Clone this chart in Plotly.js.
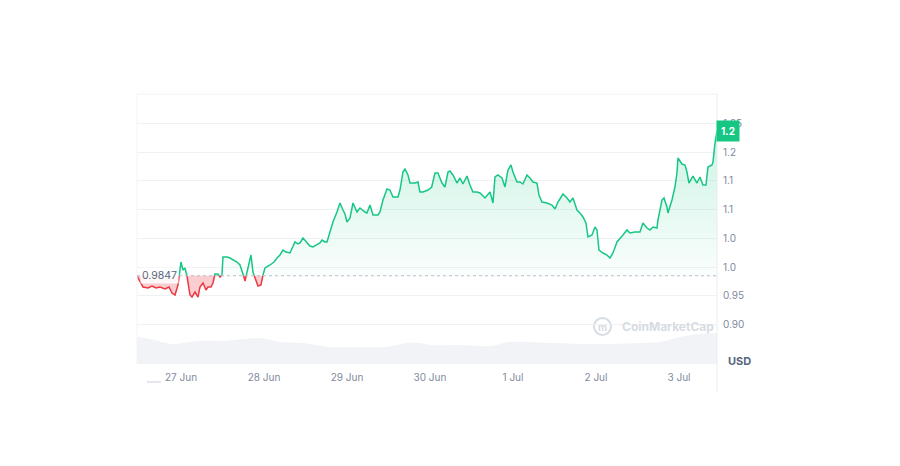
<!DOCTYPE html>
<html>
<head>
<meta charset="utf-8">
<script src="https://cdn.plot.ly/plotly-3.0.1.min.js"></script>
<style>html,body{margin:0;padding:0;background:#fff;}#chart{width:900px;height:466px;}</style>
</head>
<body>
<div id="chart"></div>
<script>
// Hours since 27 Jun 00:00 (UTC) and price in USD
const hours = [-12.72,-11.86,-10.99,-9.54,-8.39,-7.23,-6.07,-4.63,-3.47,-2.60,-1.73,-0.87,0,0.58,1.16,1.73,2.60,3.18,4.05,4.92,5.49,6.36,7.23,7.81,8.67,9.25,9.83,10.70,11.28,11.86,12.14,13.30,14.17,15.04,16.19,17.06,17.64,18.51,19.37,20.24,20.82,21.40,22.27,23.13,23.71,24.29,25.74,26.89,27.76,28.63,29.49,30.36,31.52,32.39,32.96,33.83,34.41,35.28,36.43,37.30,38.17,39.33,40.19,40.77,41.64,42.22,43.09,43.95,45.11,45.98,46.84,47.42,48.00,48.87,49.74,50.89,51.76,52.34,53.21,53.78,54.65,55.52,56.10,56.96,57.54,58.41,59.57,60.43,61.30,61.88,62.75,63.32,64.19,64.77,65.64,66.22,66.80,67.66,68.53,69.11,69.98,71.42,72.50,73.45,74.31,75.47,76.34,77.21,77.78,78.65,79.81,80.68,81.54,82.12,82.70,83.57,84.43,85.59,86.46,87.91,89.35,90.22,90.80,91.66,92.82,93.69,94.56,95.42,96.00,97.16,98.03,98.89,100.05,100.92,101.78,102.94,103.52,104.39,105.83,107.28,108.15,109.01,110.46,111.62,112.48,113.35,114.51,115.37,116.24,117.11,117.69,118.85,119.71,120.29,120.87,122.03,123.18,124.05,124.92,126.08,126.94,127.81,128.97,129.83,131.28,132.72,133.59,134.75,135.62,136.48,137.64,137.93,139.09,139.67,140.53,140.82,141.98,142.85,143.42,143.71,144.87,145.74,146.31,146.89,148.05,149.21,150.07,150.94,151.81,152.39,153.55,153.84,154.42,155.00];
const price = [0.9843,0.9739,0.9652,0.9634,0.9669,0.9634,0.9652,0.9617,0.9652,0.9547,0.9512,0.9686,1.0087,0.9948,0.9983,0.9843,0.9512,0.9477,0.9564,0.9477,0.9652,0.9721,0.9599,0.9652,0.9652,0.9721,0.9878,0.9878,0.9826,0.9861,1.0174,1.0174,1.0157,1.0122,1.0087,1.0035,0.9948,0.9756,0.9983,1.0209,0.9913,0.9808,0.9669,0.9686,0.9861,0.9983,1.0035,1.0087,1.0157,1.0209,1.0296,1.0261,1.0244,1.0366,1.0436,1.0401,1.0418,1.0505,1.0418,1.0366,1.0348,1.0383,1.0418,1.0470,1.0436,1.0436,1.0610,1.0784,1.0958,1.1115,1.0993,1.0923,1.0784,1.0854,1.1115,1.0958,1.1028,1.0993,1.0958,1.0941,1.1080,1.0906,1.0906,1.0906,1.0958,1.1167,1.1359,1.1341,1.1220,1.1220,1.1220,1.1341,1.1655,1.1707,1.1603,1.1463,1.1463,1.1463,1.1481,1.1307,1.1307,1.1341,1.1394,1.1638,1.1638,1.1463,1.1394,1.1655,1.1673,1.1603,1.1463,1.1551,1.1446,1.1516,1.1585,1.1429,1.1307,1.1307,1.1289,1.1202,1.1307,1.1115,1.1568,1.1603,1.1551,1.1394,1.1690,1.1777,1.1655,1.1481,1.1481,1.1446,1.1603,1.1551,1.1481,1.1463,1.1254,1.1132,1.1115,1.1080,1.1010,1.1132,1.1272,1.1202,1.1132,1.1202,1.0993,1.0941,1.0871,1.0767,1.0523,1.0557,1.0697,1.0645,1.0296,1.0244,1.0209,1.0157,1.0244,1.0436,1.0505,1.0557,1.0645,1.0592,1.0610,1.0610,1.0767,1.0679,1.0645,1.0697,1.0679,1.0819,1.1167,1.1202,1.1045,1.0941,1.1167,1.1394,1.1638,1.1899,1.1794,1.1777,1.1655,1.1463,1.1585,1.1463,1.1568,1.1429,1.1429,1.1742,1.1777,1.1829,1.2160,1.2369];
const basePrice = 0.9847;
const lastLabel = '1.2';

// Volume (millions USD), hours since 27 Jun 00:00
const volHours = [-12.72,-8.96,-2.31,4.63,12.14,17.93,22.84,28.63,35.28,43.09,50.89,58.41,62.46,65.35,69.11,72.00,80.68,89.35,95.13,106.70,121.16,132.72,138.51,144.29,150.07,155.00];
const volume = [2.7,2.5,2.0,2.3,2.3,2.5,2.6,2.2,2.1,1.7,1.7,1.7,1.9,2.1,2.1,1.9,1.9,1.8,2.2,2.1,2.0,2.1,2.2,2.7,3.0,3.1];

const xTickDays = ['2024-06-27','2024-06-28','2024-06-29','2024-06-30','2024-07-01','2024-07-02','2024-07-03'];
const xTickLabels = ['27 Jun','28 Jun','29 Jun','30 Jun','1 Jul','2 Jul','3 Jul'];
const yTickVals = [0.90,0.95,1.00,1.05,1.10,1.15,1.20,1.25];
const yTickLabels = ['0.90','0.95','1.0','1.0','1.1','1.1','1.2','1.25'];

const T0 = Date.UTC(2024,5,27);
const toMs = h => T0 + h*3600000;

// insert baseline crossing points so the line changes colour exactly at the baseline
const xs = [], ys = [];
for (let i = 0; i < hours.length; i++) {
  xs.push(toMs(hours[i])); ys.push(price[i]);
  if (i < hours.length-1 && (price[i]-basePrice)*(price[i+1]-basePrice) < 0) {
    const t = (basePrice-price[i])/(price[i+1]-price[i]);
    xs.push(toMs(hours[i]+t*(hours[i+1]-hours[i]))); ys.push(basePrice);
  }
}
const baseArr = xs.map(()=>basePrice);
const upY = ys.map(v=>Math.max(v,basePrice));
const dnY = ys.map(v=>Math.min(v,basePrice));
const greenLine = ys.map(v=> v>=basePrice ? v : null);
const redLine = ys.map(v=> v<=basePrice ? v : null);

const GREEN = '#16c784', RED = '#ea3943';

const traces = [
  {x: volHours.map(toMs), y: volume, yaxis:'y2', type:'scatter', mode:'lines', fill:'tozeroy',
   line:{width:0, color:'#f2f3f6', shape:'spline'}, fillcolor:'#f2f3f6', hoverinfo:'skip'},
  {x: xs, y: baseArr, mode:'lines', line:{width:0}, hoverinfo:'skip'},
  {x: xs, y: upY, mode:'lines', line:{width:0}, fill:'tonexty',
   fillgradient:{type:'vertical', start: basePrice, stop: 1.24,
     colorscale:[[0,'rgba(22,199,132,0.02)'],[1,'rgba(22,199,132,0.22)']]}, hoverinfo:'skip'},
  {x: xs, y: baseArr, mode:'lines', line:{width:0}, hoverinfo:'skip'},
  {x: xs, y: dnY, mode:'lines', line:{width:0}, fill:'tonexty', fillcolor:'rgba(234,57,67,0.25)', hoverinfo:'skip'},
  {x: xs, y: greenLine, mode:'lines', line:{color:GREEN, width:1.5}, connectgaps:false},
  {x: xs, y: redLine, mode:'lines', line:{color:RED, width:1.5}, connectgaps:false}
];

const px = p => (p-137)/580;
const py = p => (364-p)/270;
const WM = '#d7dce3';

const layout = {
  width:900, height:466,
  margin:{l:137, r:183, t:94, b:102},
  paper_bgcolor:'#fff', plot_bgcolor:'#fff',
  showlegend:false,
  font:{family:'Inter, "Noto Sans", sans-serif', color:'#808a9d', size:10},
  xaxis:{type:'date', range:[toMs(-12.72), toMs(155.0)], tickvals: xTickDays.map(d=>d+' 00:00'), ticktext: xTickLabels,
    showgrid:false, zeroline:false, showline:false, ticks:'', ticklabelstandoff:6,
    tickfont:{size:10, color:'#808a9d'}},
  yaxis:{side:'right', range:[0.8310, 1.3014], tickvals:yTickVals, ticktext:yTickLabels,
    showgrid:true, gridcolor:'#eff2f5', gridwidth:1, zeroline:false, showline:false, ticks:'', ticklabelstandoff:5,
    tickfont:{size:10, color:'#808a9d'}},
  yaxis2:{overlaying:'y', range:[0,27], visible:false, fixedrange:true},
  shapes:[
    {type:'line', xref:'paper', yref:'paper', x0:0, x1:1, y0:1, y1:1, line:{color:'#eff2f5', width:1}},
    {type:'line', xref:'paper', yref:'paper', x0:0, x1:0, y0:0, y1:1, line:{color:'#f1f3f6', width:1}},
    {type:'line', xref:'paper', yref:'paper', x0:1, x1:1, y0:py(392), y1:1, line:{color:'#e9ecf0', width:1}},
    {type:'line', xref:'paper', yref:'y', x0:0, x1:1, y0:basePrice, y1:basePrice, line:{color:'#b6bdc9', width:1, dash:'dot'}},
    {type:'line', xref:'paper', yref:'paper', x0:px(147), x1:px(161), y0:py(382), y1:py(382), line:{color:'#c8ced8', width:1}},
    {type:'circle', xref:'paper', yref:'paper', x0:px(594), x1:px(611), y0:py(335), y1:py(318), line:{color:WM, width:2}, layer:'below'}
  ],
  annotations:[
    {xref:'paper', yref:'y', x:0, y:basePrice, xanchor:'left', yanchor:'middle', xshift:3, text:'0.9847', showarrow:false,
     bgcolor:'rgba(255,255,255,0.85)', font:{size:10.5, color:'#58667e'}, borderpad:1},
    {xref:'paper', yref:'y', x:1, y:price[price.length-1], xanchor:'left', yanchor:'middle', xshift:-1, text:'<b>'+lastLabel+'</b>', showarrow:false,
     bgcolor:GREEN, font:{size:10, color:'#ffffff'}, borderpad:4},
    {xref:'paper', yref:'paper', x:1, y:py(361), xanchor:'left', yanchor:'middle', xshift:9, text:'<b>USD</b>', showarrow:false,
     font:{size:11, color:'#58667e'}},
    {xref:'paper', yref:'paper', x:px(620), y:py(326), xanchor:'left', yanchor:'middle', text:'<b>CoinMarketCap</b>', showarrow:false,
     font:{size:12, color:WM}},
    {xref:'paper', yref:'paper', x:px(602.5), y:py(326.5), xanchor:'center', yanchor:'middle', text:'<b>m</b>', showarrow:false,
     font:{size:10, color:WM}}
  ]
};

Plotly.newPlot('chart', traces, layout, {displayModeBar:false, staticPlot:true});
</script>
</body>
</html>
